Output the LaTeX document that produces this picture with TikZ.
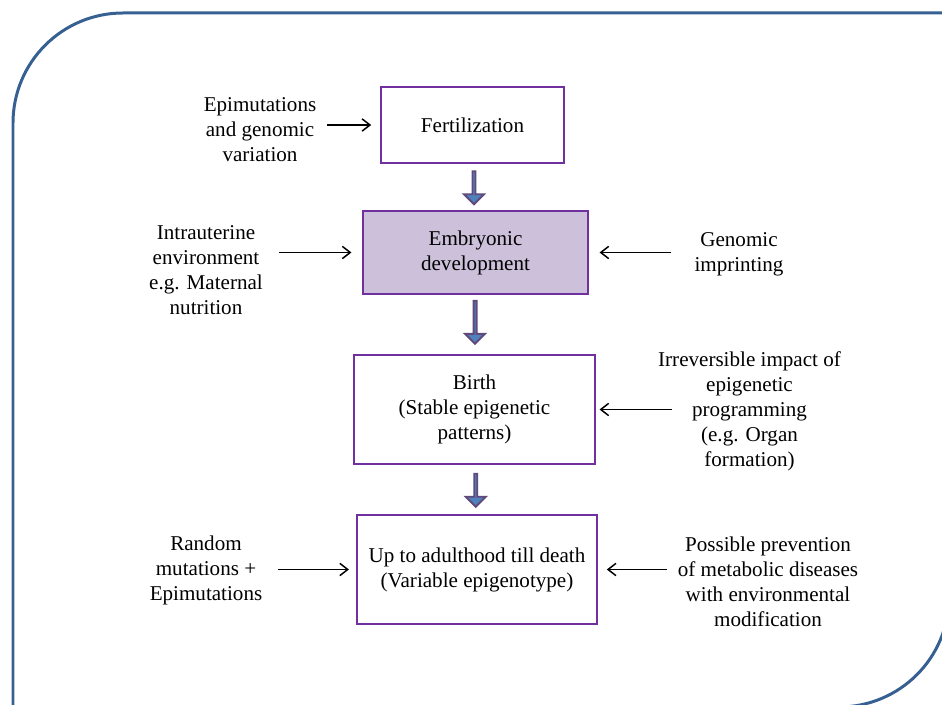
\documentclass[tikz,border=0pt]{standalone}
\usepackage{fontspec}
\setmainfont{Liberation Serif}
\usetikzlibrary{shapes.arrows,calc,arrows.meta}

\definecolor{framebl}{RGB}{55,96,146}
\definecolor{boxpurple}{RGB}{112,48,160}
\definecolor{lavender}{RGB}{204,192,218}
\definecolor{arrowbl}{RGB}{79,129,189}
\definecolor{arrowpu}{RGB}{96,74,123}

\tikzset{
  stage/.style={draw=boxpurple, line width=1.2pt, fill=white, align=center,
    font=\fontsize{12}{14.2}\selectfont},
  note/.style={align=center, inner sep=2pt, font=\fontsize{12}{14.2}\selectfont},
  link/.style={-{Straight Barb[length=4.5pt,width=7pt]}, line width=0.85pt},
  flow/.style={single arrow, shape border rotate=270, draw=arrowpu, fill=arrowbl,
    line width=1.1pt, inner sep=0pt, minimum width=0.4cm,
    single arrow head extend=0.11cm, single arrow head indent=0pt}
}

\begin{document}
\begin{tikzpicture}[x=0.02cm, y=-0.02cm]

    \useasboundingbox (0,0) rectangle (942,705);

    % --- The frame (two rounded corners) ---
    \draw[framebl, line width=1.7pt, rounded corners=2.2cm] (13,760) -- (13,13) -- (990,13);
    \draw[framebl, line width=1.7pt, rounded corners=2.2cm] (949,-40) -- (949,707) -- (13,707);

    % --- The stages ---
    \node[stage, minimum width=3.66cm, minimum height=1.52cm] (fert) at (472.5,125) {Fertilization};
    \node[stage, fill=lavender, minimum width=4.5cm, minimum height=1.66cm] (embryo) at (475.5,252.5) {Embryonic\\development};
    \node[stage, minimum width=4.82cm, minimum height=2.18cm] (birth) at (474.5,409.5) {Birth\\(Stable epigenetic\\patterns)};
    \node[stage, minimum width=4.8cm, minimum height=2.18cm] (adult) at (477,569.5) {Up to adulthood till death\\(Variable epigenotype)};

    % --- Block arrows between stages ---
    \node[flow, minimum height=0.66cm] (flow1) at ($(fert.south)!0.5!(embryo.north)$) {};
    \node[flow, minimum height=0.86cm] (flow2) at ($(embryo.south)!0.45!(birth.north)$) {};
    \node[flow, minimum height=0.66cm] (flow3) at ($(birth.south)!0.5!(adult.north)$) {};

    % --- Influences on the left ---
    \node[note] (epi) at (260,130) {Epimutations\\and genomic\\variation};
    \node[note] (uterine) at (206,270) {Intrauterine\\environment\\e.g. Maternal\\nutrition};
    \node[note] (random) at (206,570) {Random\\mutations +\\Epimutations};

    % --- Influences on the right ---
    \node[note] (imprint) at (739,254) {Genomic\\imprinting};
    \node[note] (irrev) at (749.5,411) {Irreversible impact of\\epigenetic\\programming\\(e.g. Organ\\formation)};
    \node[note] (prevent) at (768,582) {Possible prevention\\of metabolic diseases\\with environmental\\modification};

    % --- Thin arrows into the stages ---
    \draw[link, shorten <=4pt, shorten >=5pt] (epi.east |- fert.west) -- (fert.west);
    \draw[link, shorten <=7pt, shorten >=6pt] (uterine.east |- embryo.west) -- (embryo.west);
    \draw[link, shorten <=7pt, shorten >=4pt] (random.east |- adult.west) -- (adult.west);
    \draw[link, shorten <=11pt, shorten >=6pt] (imprint.west |- embryo.east) -- (embryo.east);
    \draw[link, shorten <=-10pt, shorten >=2pt] (irrev.west |- birth.east) -- (birth.east);
    \draw[link, shorten <=4pt, shorten >=5pt] (prevent.west |- adult.east) -- (adult.east);

\end{tikzpicture}
\end{document}
